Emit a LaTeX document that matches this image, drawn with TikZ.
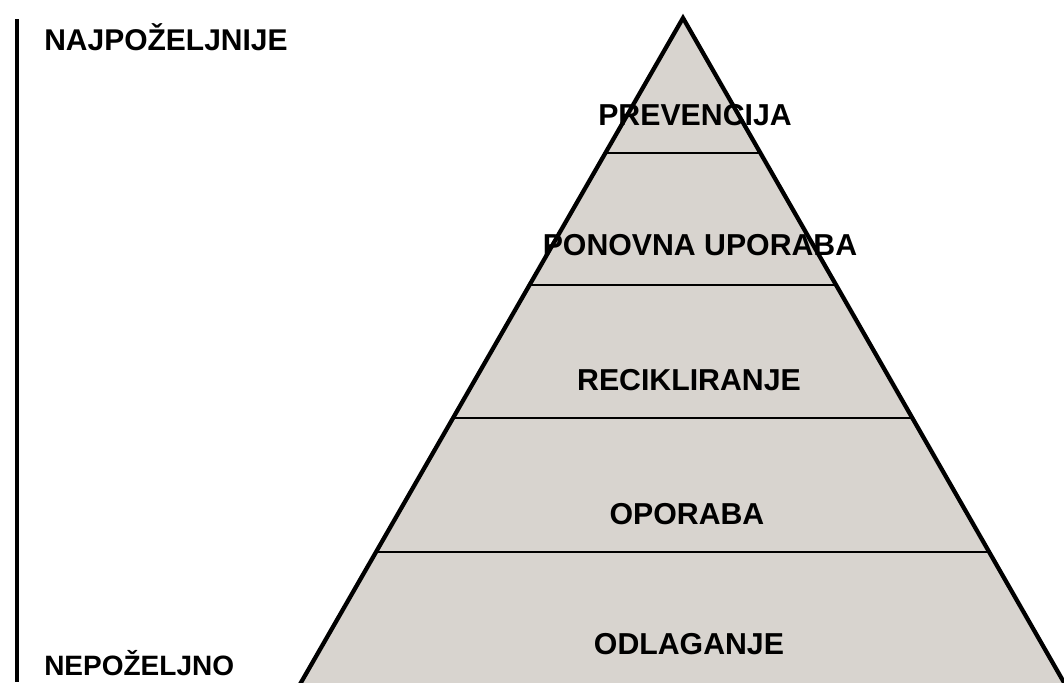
\documentclass[tikz,border=0pt]{standalone}
\usepackage{fontspec}
\setmainfont{Liberation Sans}
\definecolor{pyrgrey}{RGB}{216,212,207}
\tikzset{
  label/.style={font=\fontsize{22.7}{27}\selectfont\bfseries, inner sep=0pt},
  sidelabel/.style={label, anchor=west},
  edge/.style={line width=3.2pt},
  band/.style={line width=1pt}
}
\begin{document}
\begin{tikzpicture}[x=0.75pt, y=-0.75pt]
\useasboundingbox (0,0) rectangle (1064,682);

\begin{scope}
\clip (0,0) rectangle (1064,682);
\fill[pyrgrey] (683,18) -- (299,686) -- (1066,686) -- cycle;
\begin{scope}
\clip (683,18) -- (299,686) -- (1066,686) -- cycle;
\foreach \y in {153,285,418,552}
     \draw[band] (290,\y) -- (1064,\y);
\end{scope}
\draw[edge, line join=miter] (299,686) -- (683,18) -- (1066,686);
\end{scope}

\fill[black] (14.5,19) rectangle (19,682);

\node[sidelabel, font=\fontsize{22.5}{27}\selectfont\bfseries] (best) at (44,37) {NAJPOŽELJNIJE};
\node[sidelabel, font=\fontsize{21}{25}\selectfont\bfseries] (worst) at (44,663) {NEPOŽELJNO};

\node[label] (l1) at (695,115) {PREVENCIJA};
\node[label] (l2) at (700,245) {PONOVNA UPORABA};
\node[label] (l3) at (689,380) {RECIKLIRANJE};
\node[label] (l4) at (687,514) {OPORABA};
\node[label] (l5) at (689,644) {ODLAGANJE};

\end{tikzpicture}
\end{document}
